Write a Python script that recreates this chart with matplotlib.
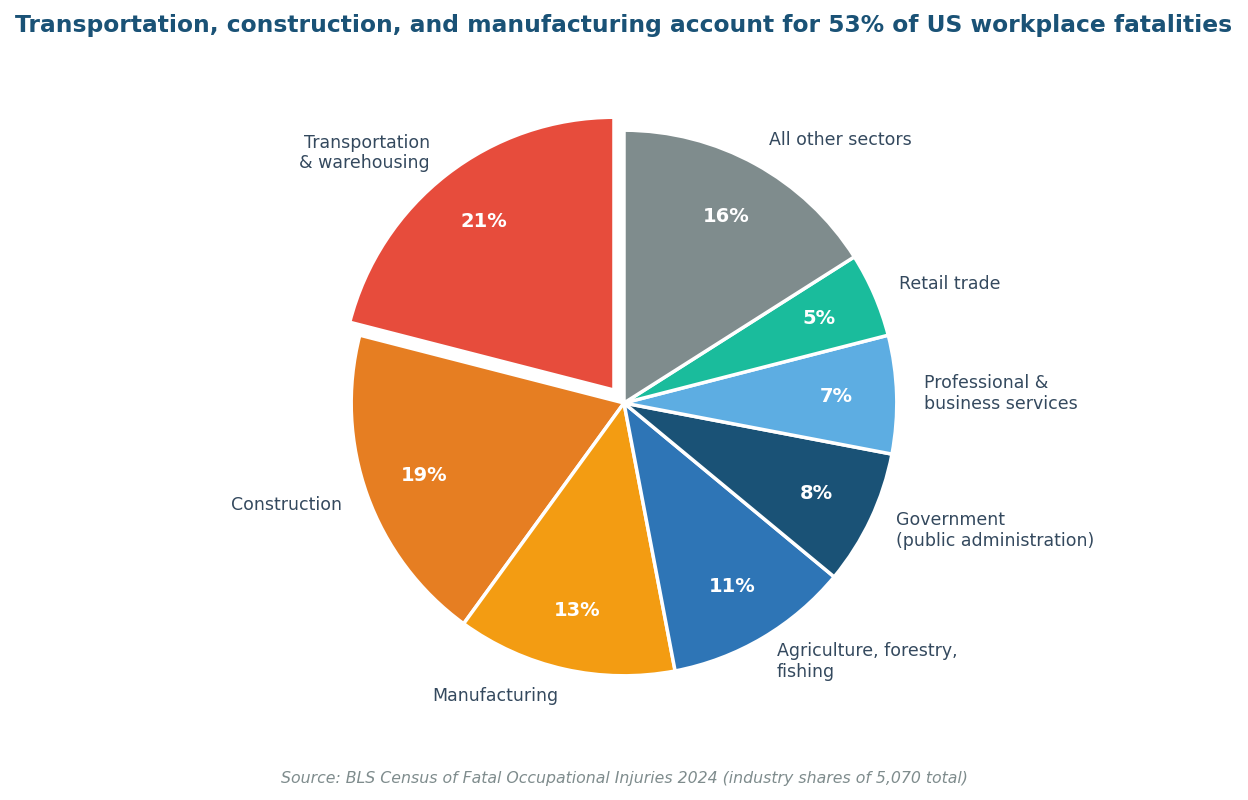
import matplotlib.pyplot as plt

plt.rcParams["font.family"] = ["DejaVu Sans"]

# Industry shares of US workplace fatalities (percent)
sectors = [
    "Transportation\n& warehousing",
    "Construction",
    "Manufacturing",
    "Agriculture, forestry,\nfishing",
    "Government\n(public administration)",
    "Professional &\nbusiness services",
    "Retail trade",
    "All other sectors",
]
shares = [21, 19, 13, 11, 8, 7, 5, 16]
colors = ["#e74c3c", "#e67e22", "#f39c12", "#2e75b6",
          "#1a5276", "#5dade2", "#1abc9c", "#7f8c8d"]
explode = [0.06, 0, 0, 0, 0, 0, 0, 0]

fig = plt.figure(figsize=(12.48, 8), dpi=100)
ax = fig.add_axes([0.1, 0.07, 0.8, 0.8525])

wedges, texts, autotexts = ax.pie(
    shares, labels=sectors, colors=colors, explode=explode,
    startangle=90, counterclock=True, autopct="%.0f%%",
    pctdistance=0.78, labeldistance=1.1,
    wedgeprops=dict(edgecolor="white", linewidth=2.5),
    textprops=dict(fontsize=12.5, color="#34495e"),
)
for t in autotexts:
    t.set_color("white")
    t.set_fontweight("bold")
    t.set_fontsize(14)
ax.set_aspect("equal")

fig.text(0.5, 0.968, "Transportation, construction, and manufacturing account for 53% of US workplace fatalities",
         ha="center", va="center", fontsize=16.8, fontweight="bold", color="#1a5276")
fig.text(0.5, 0.027, "Source: BLS Census of Fatal Occupational Injuries 2024 (industry shares of 5,070 total)",
         ha="center", va="center", fontsize=11.3, style="italic", color="#7f8c8d")

fig.savefig("out.png", dpi=100)
